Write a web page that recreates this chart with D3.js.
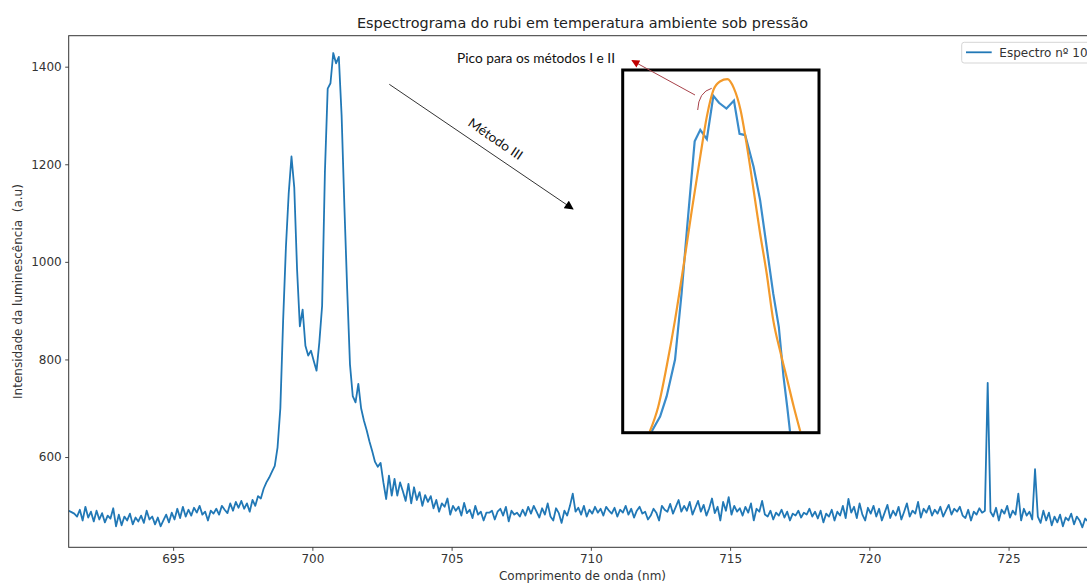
<!DOCTYPE html>
<html>
<head>
<meta charset="utf-8">
<script src="https://d3js.org/d3.v7.min.js"></script>
<style>
  body { margin: 0; background: #fff; overflow: hidden; }
  #chart-area svg { display: block; }
</style>
</head>
<body>
<div id="chart-area"></div>
<script>

// spectrum no. 10 - sampled every 0.1 nm starting at 691.25 nm
var wlStart = 691.25;
var wlStep = 0.1;
var intensity = [
    490,
    487, 484, 478, 492, 470, 498, 476, 488, 468, 490,
    472, 485, 466, 480, 474, 495, 458, 482, 460, 478,
    470, 484, 462, 476, 468, 480, 465, 490, 472, 478,
    462, 476, 458, 470, 482, 466, 486, 472, 494, 475,
    498, 478, 492, 480, 496, 486, 500, 482, 488, 470,
    490, 484, 494, 482, 500, 492, 485, 505, 490, 508,
    496, 510, 494, 505, 488, 512, 500, 520, 515, 535,
    548, 558, 570, 582, 620, 700, 880, 1030, 1140, 1216,
    1152, 985, 868, 902, 828, 808, 818, 797, 777, 835,
    910, 1183, 1355, 1366, 1428, 1407, 1420, 1300, 1113, 944,
    790, 725, 712, 750, 700, 675, 655, 632, 612, 590,
    580, 588, 548, 514, 562, 521, 555, 521, 548, 530,
    510, 545, 505, 538, 512, 528, 500, 522, 508, 520,
    495, 512, 488, 505, 498, 515, 482, 500, 490, 498,
    480, 506, 485, 492, 475, 500, 482, 488, 470, 486,
    486, 490, 472, 488, 494, 480, 498, 468, 490, 482,
    486, 478, 492, 480, 498, 484, 500, 488, 476, 495,
    482, 505, 478, 470, 495, 485, 465, 490, 480, 500,
    525, 488, 496, 482, 500, 478, 492, 484, 498, 486,
    494, 480, 498, 490, 484, 496, 478, 492, 486, 500,
    482, 494, 476, 490, 498, 484, 488, 472, 480, 494,
    486, 470, 500, 492, 488, 504, 484, 498, 512, 488,
    500, 490, 508, 482, 496, 510, 488, 502, 480, 495,
    515, 485, 498, 470, 508, 490, 518, 482, 500, 488,
    495, 480, 498, 486, 505, 470, 494, 488, 510, 482,
    478, 490, 472, 486, 480, 492, 476, 488, 470, 484,
    480, 490, 476, 486, 482, 494, 478, 488, 474, 490,
    466, 484, 478, 492, 470, 488, 480, 500, 475, 514,
    486, 498, 475, 505, 482, 470, 496, 484, 500, 478,
    494, 470, 486, 502, 475, 490, 480, 498, 472, 488,
    505, 478, 490, 484, 508, 476, 494, 486, 500, 480,
    492, 484, 498, 478, 490, 502, 482, 494, 488, 498,
    480, 475, 492, 470, 488, 482, 495, 486, 490, 752,
    488, 478, 496, 470, 492, 484, 500, 476, 490, 482,
    525, 470, 494, 480, 488, 472, 575, 478, 465, 490,
    470, 486, 460, 478, 466, 482, 458, 476, 470, 484,
    462, 478, 470, 456, 474, 468, 480, 470
];

var xTicks = [695, 700, 705, 710, 715, 720, 725];
var yTicks = [600, 800, 1000, 1200, 1400];

// zoomed peak shown in the inset
var insetWl = [700.21, 700.30, 700.37, 700.46, 700.53, 700.59, 700.67, 700.73, 700.80, 700.87,
    700.93, 701.01, 701.09, 701.15, 701.21, 701.30, 701.37, 701.44, 701.51, 701.57,
    701.62, 701.66, 701.69];
var insetSpectrum = [852, 878, 913, 977, 1092, 1208, 1356, 1376, 1360, 1435,
    1423, 1413, 1427, 1369, 1367, 1312, 1254, 1173, 1092, 1034,
    948, 895, 852];

// fitted curve (orange) in the inset
var fitWl = [700.19, 700.28, 700.37, 700.46, 700.55, 700.64, 700.73, 700.80, 700.87, 700.94,
    701.02, 701.09, 701.16, 701.23, 701.30, 701.37, 701.44, 701.51, 701.59, 701.66,
    701.73, 701.80];
var fitCurve = [852, 895, 965, 1046, 1139, 1237, 1330, 1399, 1445, 1460,
    1464, 1448, 1411, 1347, 1272, 1196, 1127, 1046, 988, 942,
    895, 852];


SpectrumChart = function(_parentElement, _data){
    this.parentElement = _parentElement;
    this.data = _data;

    this.initVis();
}

SpectrumChart.prototype.initVis = function() {
    var vis = this;

    vis.margin = { top: 35.7, right: 3.7, bottom: 35.7, left: 68.7 };
    vis.svgWidth = 1100;
    vis.svgHeight = 583;
    vis.width = 1027.6;
    vis.height = 511.6;

    vis.svg = d3.select('#' + vis.parentElement)
        .append('svg')
        .attr('width', vis.svgWidth)
        .attr('height', vis.svgHeight)
        .style('font-family', '"DejaVu Sans", sans-serif');

    vis.defs = vis.svg.append('defs');
    vis.defs.append('clipPath').attr('id', 'plot-clip')
        .append('rect')
        .attr('width', vis.width)
        .attr('height', vis.height);

    vis.g = vis.svg.append('g')
        .attr('transform', 'translate(' + vis.margin.left + ',' + vis.margin.top + ')');

    vis.x = d3.scaleLinear()
        .domain([691.25, 728.15])
        .range([0, vis.width]);
    vis.y = d3.scaleLinear()
        .domain([415, 1463.5])
        .range([vis.height, 0]);

    vis.line = d3.line()
        .x(function(d) { return vis.x(d.wl); })
        .y(function(d) { return vis.y(d.value); });

    vis.g.append('path')
        .datum(vis.data)
        .attr('clip-path', 'url(#plot-clip)')
        .attr('fill', 'none')
        .attr('stroke', '#2178b6')
        .attr('stroke-width', 1.8)
        .attr('stroke-linejoin', 'round')
        .attr('d', vis.line);

    // axes
    vis.xAxis = d3.axisBottom(vis.x)
        .tickValues(xTicks)
        .tickFormat(d3.format('d'))
        .tickSize(3.5)
        .tickPadding(3.5);
    vis.yAxis = d3.axisLeft(vis.y)
        .tickValues(yTicks)
        .tickFormat(d3.format('d'))
        .tickSize(3.5)
        .tickPadding(3.5);

    vis.g.append('g')
        .attr('class', 'axis')
        .attr('transform', 'translate(0,' + vis.height + ')')
        .call(vis.xAxis);
    vis.g.append('g')
        .attr('class', 'axis')
        .call(vis.yAxis);

    vis.g.selectAll('.axis .domain').remove();
    vis.g.selectAll('.axis line').attr('stroke', '#333').attr('stroke-width', 0.9);
    vis.g.selectAll('.axis text')
        .attr('fill', '#333')
        .style('font-size', '12px')
        .style('font-family', '"DejaVu Sans", sans-serif');

    // frame (spines)
    vis.g.append('rect')
        .attr('width', vis.width)
        .attr('height', vis.height)
        .attr('fill', 'none')
        .attr('stroke', '#333')
        .attr('stroke-width', 1);

    // title and labels
    vis.svg.append('text')
        .attr('x', vis.margin.left + vis.width / 2)
        .attr('y', 28)
        .attr('text-anchor', 'middle')
        .attr('fill', '#222')
        .style('font-size', '14.4px')
        .text('Espectrograma do rubi em temperatura ambiente sob pressão');

    vis.svg.append('text')
        .attr('x', vis.margin.left + vis.width / 2)
        .attr('y', 580)
        .attr('text-anchor', 'middle')
        .attr('fill', '#333')
        .style('font-size', '12px')
        .text('Comprimento de onda (nm)');

    vis.svg.append('text')
        .attr('transform', 'translate(22,' + (vis.margin.top + vis.height / 2) + ') rotate(-90)')
        .attr('text-anchor', 'middle')
        .attr('fill', '#333')
        .style('font-size', '12px')
        .style('white-space', 'pre')
        .text('Intensidade da luminescência  (a.u)');

    // legend
    var lg = vis.svg.append('g').attr('transform', 'translate(961.7,42.3)');
    lg.append('rect')
        .attr('width', 140)
        .attr('height', 20.7)
        .attr('rx', 2.5)
        .attr('fill', '#fff')
        .attr('stroke', '#d5d5d5');
    lg.append('line')
        .attr('x1', 4.3).attr('x2', 30)
        .attr('y1', 10).attr('y2', 10)
        .attr('stroke', '#2178b6')
        .attr('stroke-width', 1.8);
    lg.append('text')
        .attr('x', 37.6)
        .attr('y', 14.4)
        .attr('fill', '#333')
        .style('font-size', '12px')
        .text('Espectro nº 10');

    vis.drawInset();
    vis.drawNotes();
};

SpectrumChart.prototype.drawInset = function() {
    var vis = this;

    var box = { x: 622.7, y: 70, w: 196.3, h: 362.7 };

    vis.ix = d3.scaleLinear().domain([699.9, 702.0]).range([box.x, box.x + box.w]);
    vis.iy = d3.scaleLinear().domain([850, 1480]).range([box.y + box.h, box.y]);

    vis.defs.append('clipPath').attr('id', 'inset-clip')
        .append('rect')
        .attr('x', box.x).attr('y', box.y)
        .attr('width', box.w).attr('height', box.h);

    vis.svg.append('rect')
        .attr('x', box.x).attr('y', box.y)
        .attr('width', box.w).attr('height', box.h)
        .attr('fill', '#fff');

    var iline = d3.line()
        .x(function(d) { return vis.ix(d[0]); })
        .y(function(d) { return vis.iy(d[1]); });

    var inset = vis.svg.append('g').attr('clip-path', 'url(#inset-clip)');

    inset.append('path')
        .datum(d3.zip(insetWl, insetSpectrum))
        .attr('fill', 'none')
        .attr('stroke', '#3a8ccb')
        .attr('stroke-width', 2.2)
        .attr('d', iline);

    inset.append('path')
        .datum(d3.zip(fitWl, fitCurve))
        .attr('fill', 'none')
        .attr('stroke', '#f39a2b')
        .attr('stroke-width', 2.2)
        .attr('d', iline.curve(d3.curveMonotoneX));

    vis.svg.append('rect')
        .attr('x', box.x).attr('y', box.y)
        .attr('width', box.w).attr('height', box.h)
        .attr('fill', 'none')
        .attr('stroke', '#000')
        .attr('stroke-width', 3);
};

SpectrumChart.prototype.drawNotes = function() {
    var vis = this;

    vis.defs.append('marker')
        .attr('id', 'head-black')
        .attr('viewBox', '0 0 10 10')
        .attr('refX', 9).attr('refY', 5)
        .attr('markerWidth', 10).attr('markerHeight', 9)
        .attr('markerUnits', 'userSpaceOnUse')
        .attr('orient', 'auto')
        .append('path').attr('d', 'M0,0L10,5L0,10Z').attr('fill', '#000');

    vis.defs.append('marker')
        .attr('id', 'head-red')
        .attr('viewBox', '0 0 10 10')
        .attr('refX', 9).attr('refY', 5)
        .attr('markerWidth', 9).attr('markerHeight', 8)
        .attr('markerUnits', 'userSpaceOnUse')
        .attr('orient', 'auto')
        .append('path').attr('d', 'M0,0L10,5L0,10Z').attr('fill', '#c00000');

    // Metodo III arrow
    vis.svg.append('line')
        .attr('x1', 389.3).attr('y1', 84.3)
        .attr('x2', 573).attr('y2', 209)
        .attr('stroke', '#333')
        .attr('stroke-width', 1)
        .attr('marker-end', 'url(#head-black)');

    vis.svg.append('text')
        .attr('transform', 'translate(495.5,139) rotate(34.2)')
        .attr('text-anchor', 'middle')
        .attr('dy', '0.35em')
        .attr('fill', '#111')
        .attr('textLength', 63)
        .attr('lengthAdjust', 'spacingAndGlyphs')
        .style('font-family', 'Lato, "Open Sans", sans-serif')
        .style('font-size', '13px')
        .text('Método III');

    // peak annotation
    vis.svg.append('text')
        .attr('x', 457)
        .attr('y', 62.5)
        .attr('fill', '#111')
        .attr('textLength', 158)
        .attr('lengthAdjust', 'spacingAndGlyphs')
        .style('font-family', 'Lato, "Open Sans", sans-serif')
        .style('font-size', '13px')
        .text('Pico para os métodos I e II');

    vis.svg.append('line')
        .attr('x1', 695).attr('y1', 95)
        .attr('x2', 632).attr('y2', 60.5)
        .attr('stroke', '#a8424a')
        .attr('stroke-width', 1)
        .attr('marker-end', 'url(#head-red)');

    vis.svg.append('path')
        .attr('d', 'M697.7,110 Q698.5,92 711.7,88.3')
        .attr('fill', 'none')
        .attr('stroke', '#a8424a')
        .attr('stroke-width', 1);
};


var spectrum = intensity.map(function(v, i) {
    return { wl: wlStart + i * wlStep, value: v };
});

var chart = new SpectrumChart('chart-area', spectrum);

</script>
</body>
</html>
